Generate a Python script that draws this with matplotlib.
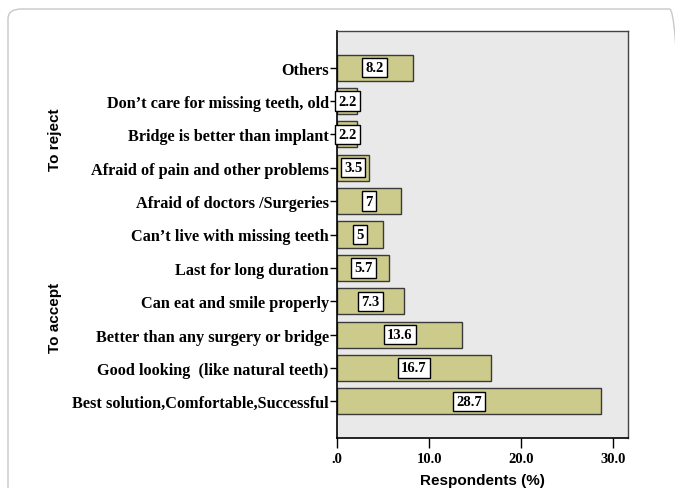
import matplotlib
matplotlib.use("Agg")
import matplotlib.pyplot as plt
from matplotlib.patches import FancyBboxPatch

categories = [
    "Best solution,Comfortable,Successful",
    "Good looking  (like natural teeth)",
    "Better than any surgery or bridge",
    "Can eat and smile properly",
    "Last for long duration",
    "Can\u2019t live with missing teeth",
    "Afraid of doctors /Surgeries",
    "Afraid of pain and other problems",
    "Bridge is better than implant",
    "Don\u2019t care for missing teeth, old",
    "Others",
]
values = [28.7, 16.7, 13.6, 7.3, 5.7, 5, 7, 3.5, 2.2, 2.2, 8.2]
value_labels = ["28.7", "16.7", "13.6", "7.3", "5.7", "5", "7", "3.5", "2.2", "2.2", "8.2"]
xticks = [0, 10, 20, 30]
xtick_labels = [".0", "10.0", "20.0", "30.0"]
groups = ["To reject", "To accept"]

serif = "Liberation Serif"
sans = "Liberation Sans"

fig = plt.figure(figsize=(6.75, 4.89), dpi=100)
fig.patch.set_facecolor("white")

frame = FancyBboxPatch((8 / 675, -0.05), 1.0, 1.0 - 10 / 489 + 0.05,
                       boxstyle="round,pad=0,rounding_size=0.02",
                       transform=fig.transFigure, facecolor="none",
                       edgecolor="#c8c8c8", linewidth=1.0, clip_on=False)
fig.patches.append(frame)

ax = fig.add_axes([337 / 675, 1 - 439 / 489, (628 - 337) / 675, (439 - 32) / 489])
ax.set_facecolor("#e9e9e9")

ypos = list(range(len(categories)))
ax.barh(ypos, values, height=0.78, color="#cdcb8b", edgecolor="#3a3a3a", linewidth=1.0, zorder=2)

for y, v, lab in zip(ypos, values, value_labels):
    ax.text(v / 2, y, lab, ha="center", va="center", fontsize=10.5, fontweight="bold",
            family=serif, zorder=3,
            bbox=dict(boxstyle="square,pad=0.22", facecolor="white", edgecolor="black", linewidth=1.0))

ax.set_xlim(0, 31.6)
ax.set_ylim(-1.1, len(categories) - 1 + 1.1)
ax.set_yticks(ypos)
ax.set_yticklabels(categories, fontsize=11.7, fontweight="bold", family=serif)
ax.set_xticks(xticks)
ax.set_xticklabels(xtick_labels, fontsize=10.5, fontweight="bold", family=serif)
ax.tick_params(axis="y", length=5, width=1, pad=1)
ax.tick_params(axis="x", length=7, width=1, pad=3)

for s in ["left", "bottom"]:
    ax.spines[s].set_color("black")
    ax.spines[s].set_linewidth(1.2)
for s in ["top", "right"]:
    ax.spines[s].set_color("#444444")
    ax.spines[s].set_linewidth(1.0)

ax.set_xlabel("Respondents (%)", fontsize=11, fontweight="bold", family=sans, labelpad=6)

fig.text(55 / 675, 1 - 140 / 489, groups[0], rotation=90, ha="center", va="center",
         fontsize=11, fontweight="bold", family=sans)
fig.text(55 / 675, 1 - 318 / 489, groups[1], rotation=90, ha="center", va="center",
         fontsize=11, fontweight="bold", family=sans)

fig.savefig("out.png", dpi=100)
